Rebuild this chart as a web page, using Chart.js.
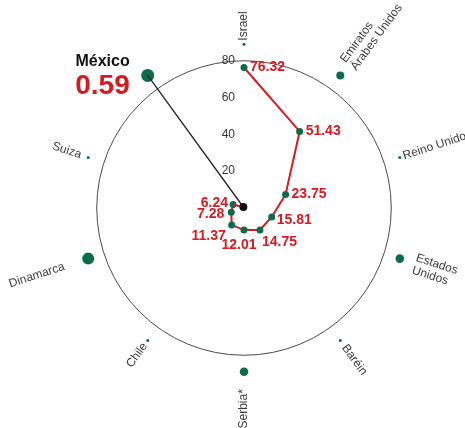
<!DOCTYPE html>
<html lang="es">
<head>
<meta charset="UTF-8">
<title>México 0.59</title>
<script src="https://cdn.jsdelivr.net/npm/chart.js"></script>
<style>
  html, body { margin: 0; padding: 0; background: #fff; }
  #wrap { width: 465px; height: 428px; position: relative; }
</style>
</head>
<body>
<div id="wrap"><canvas id="radar"></canvas></div>
<script>
// data
const countries = [['Israel'], ['Emiratos', 'Árabes Unidos'], ['Reino Unido'], ['Estados', 'Unidos'], ['Baréin'],
                   ['Serbia*'], ['Chile'], ['Dinamarca'], ['Suiza'], ['México']];
const values = [76.32, 51.43, 23.75, 15.81, 14.75, 12.01, 11.37, 7.28, 6.24, 0.59];
const tickValues = [20, 40, 60, 80];

// styles
const RED = '#d71920';
const GREEN = '#0b6b4c';
const RING = 89;                       // ring where the country dots sit
const dotRadius = [1.5, 4, 1.5, 4.3, 1.5, 4.3, 1.5, 6, 1.5, 6.5];
const labelGap = [2, 9, 2, 11, 5, 13, 3, 19, 6, 0];
// value label offsets from each point: [dx, dy, align]
const valueOffsets = [[6, 0, 'left'], [6, 0, 'left'], [6, 0, 'left'], [5, 3, 'left'], [2, 12, 'left'],
                      [-5, 15, 'center'], [-6, 11, 'right'], [-7, 2, 'right'], [-5, -1, 'right']];

const last = values.length - 1;
// main red path stops at Suiza so the radar loop does not close back to Israel
const mainPath = values.map((v, i) => i === last ? null : v);
// short tail from Suiza into México at the centre
const tailPath = values.map((v, i) => i >= last - 1 ? v : null);

const textPlugin = {
  id: 'textPlugin',
  afterDatasetsDraw(chart) {
    const ctx = chart.ctx;
    const r = chart.scales.r;
    ctx.save();

    // radial tick labels, just left of the vertical axis
    ctx.font = '12px "Liberation Sans", Arial, sans-serif';
    ctx.fillStyle = '#333';
    ctx.textAlign = 'right';
    ctx.textBaseline = 'middle';
    tickValues.forEach(v => {
      ctx.fillText(String(v), r.xCenter - 9, r.yCenter - r.getDistanceFromCenterForValue(v));
    });

    // country names, rotated along the radius
    ctx.fillStyle = '#3a3a3a';
    countries.forEach((lines, i) => {
      if (i === last) return;
      const ang = r.getIndexAngle(i);
      const dist = r.getDistanceFromCenterForValue(RING) + dotRadius[i] + labelGap[i];
      const p = r.getPointPosition(i, dist);
      const right = ang < Math.PI - 0.01;
      ctx.save();
      ctx.translate(p.x, p.y);
      ctx.rotate(right ? ang - Math.PI / 2 : ang + Math.PI / 2);
      ctx.textAlign = right ? 'left' : 'right';
      const offs = lines.length > 1 ? [-6, 7] : [0];
      lines.forEach((t, k) => ctx.fillText(t, 0, offs[k]));
      ctx.restore();
    });

    // México callout
    const mp = r.getPointPosition(last, r.getDistanceFromCenterForValue(RING));
    ctx.textAlign = 'right';
    ctx.textBaseline = 'alphabetic';
    ctx.fillStyle = '#111';
    ctx.font = 'bold 16px "Liberation Sans", Arial, sans-serif';
    ctx.fillText(countries[last][0], mp.x - 18, mp.y - 9);
    ctx.fillStyle = RED;
    ctx.font = 'bold 28px "Liberation Sans", Arial, sans-serif';
    ctx.fillText(String(values[last]), mp.x - 18, mp.y + 19);

    // value labels along the red line
    ctx.font = 'bold 14px "Liberation Sans", Arial, sans-serif';
    ctx.textBaseline = 'middle';
    const meta = chart.getDatasetMeta(1);
    valueOffsets.forEach((o, i) => {
      const pt = meta.data[i];
      ctx.textAlign = o[2];
      ctx.fillText(values[i].toFixed(2), pt.x + o[0], pt.y + o[1]);
    });
    ctx.restore();
  }
};

new Chart(document.getElementById('radar'), {
  type: 'radar',
  data: {
    labels: countries,
    datasets: [
      {
        data: tailPath,
        borderColor: RED,
        borderWidth: 2,
        fill: false,
        pointRadius: tailPath.map((v, i) => i === last ? 4 : 0),
        pointBackgroundColor: '#111',
        pointBorderWidth: 0
      },
      {
        data: mainPath,
        borderColor: RED,
        borderWidth: 2,
        fill: false,
        pointRadius: 3.5,
        pointBackgroundColor: GREEN,
        pointBorderWidth: 0
      },
      {
        // line from the centre out to México
        data: countries.map((c, i) => i === 0 ? 0 : (i === last ? RING : null)),
        borderColor: '#222',
        borderWidth: 1.3,
        spanGaps: true,
        fill: false,
        pointRadius: 0
      },
      {
        data: countries.map(() => RING),
        showLine: false,
        fill: false,
        borderWidth: 0,
        backgroundColor: 'rgba(0,0,0,0)',
        pointRadius: dotRadius,
        pointBackgroundColor: GREEN,
        pointBorderWidth: 0
      }
    ]
  },
  options: {
    responsive: true,
    maintainAspectRatio: false,
    animation: false,
    layout: { padding: { left: 36, right: 13, top: 0, bottom: 12 } },
    plugins: { legend: { display: false }, tooltip: { enabled: false } },
    scales: {
      r: {
        min: 0,
        max: 113,
        backgroundColor: 'rgba(0,0,0,0)',
        ticks: { display: false, stepSize: 20 },
        angleLines: { display: false },
        pointLabels: { display: false },
        grid: { circular: true, color: c => c.tick && c.tick.value === 80 ? '#4a4a4a' : 'rgba(0,0,0,0)', lineWidth: 1 }
      }
    }
  },
  plugins: [textPlugin]
});
</script>
</body>
</html>
